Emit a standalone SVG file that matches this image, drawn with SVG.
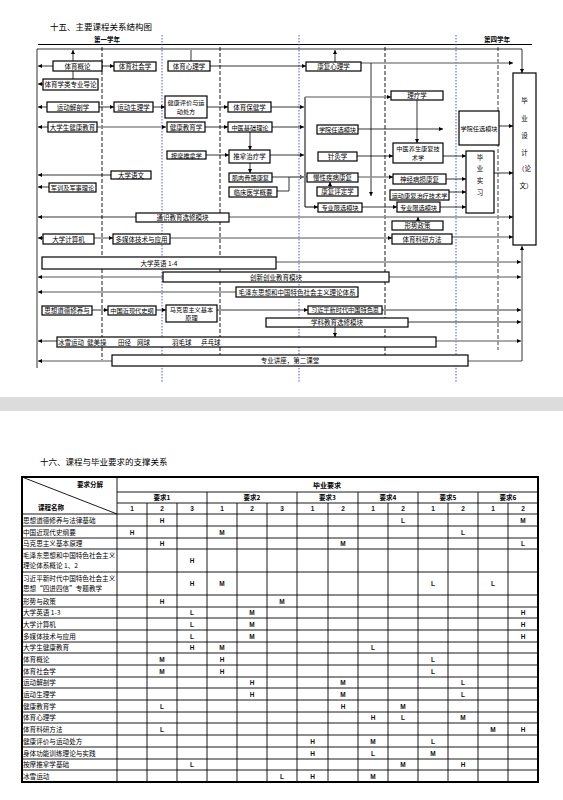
<svg xmlns="http://www.w3.org/2000/svg" width="563" height="800" viewBox="0 0 563 800">
<style>
.t{font-family:"Noto Sans CJK SC","Noto Sans",sans-serif;font-size:6.5px;fill:#000}
.s{font-size:6.2px}
.m{text-anchor:middle}
.b{font-weight:bold}
.bx rect{fill:#fff;stroke:#000;stroke-width:1.2}
.c{stroke:#000;stroke-width:0.8;fill:none}
.g{stroke:#8c8c8c;stroke-width:1.5;fill:none}
.dash{stroke:#000;stroke-width:0.9;stroke-dasharray:4,2;fill:none}
.gdash{stroke:#888;stroke-width:1.6;stroke-dasharray:4,2;fill:none}
.blue{stroke:#3a3aff;stroke-width:0.9;stroke-dasharray:1.5,1.5;fill:none}
.tl{stroke:#000;stroke-width:0.9;fill:none}
.tb{stroke:#000;stroke-width:2;fill:none}
.v{font-family:"Liberation Sans",sans-serif;font-size:6.5px;font-weight:bold;text-anchor:middle;fill:#111}
</style>
<defs>
<marker id="a" viewBox="0 0 6 6" refX="6" refY="3" markerWidth="4" markerHeight="4" markerUnits="userSpaceOnUse" orient="auto"><path d="M0,0 L6,3 L0,6 z" fill="#000"/></marker>
<marker id="ag" viewBox="0 0 6 6" refX="6" refY="3" markerWidth="4" markerHeight="4" markerUnits="userSpaceOnUse" orient="auto"><path d="M0,0 L6,3 L0,6 z" fill="#000"/></marker>
</defs>
<rect width="563" height="800" fill="#fff"/>
<rect x="0" y="397" width="563" height="14" fill="#dcdcdc"/>

<!-- Top diagram header -->
<text class="t" x="50" y="30" style="font-size:8.5px">十五、主要课程关系结构图</text>
<text class="t m b" x="107" y="42" style="font-size:6.5px">第一学年</text>
<text class="t m b" x="497" y="42" style="font-size:6.5px">第四学年</text>
<path class="tl" d="M38,44.5 H532" style="stroke-width:1.2"/>

<!-- semester lines -->
<g id="grid">
<path class="dash" d="M102,47 V360"/>
<path class="dash" d="M220,47 V355"/>
<path class="dash" d="M385,47 V356"/>
<path class="gdash" d="M498,47 V350"/>
<path class="blue" d="M162,35 V383"/>
<path class="blue" d="M299,35 V383"/>
<path class="blue" d="M456,35 V383"/>
</g>

<g id="connectors">
<path class="c" d="M37,49 H522 V73" marker-end="url(#a)"/>
<path class="c" d="M37,49 V368"/>
<path class="c" d="M73,61 V50" marker-end="url(#a)"/>
<path class="c" d="M191,61 V50"/>
<path class="c" d="M335,62 V50" marker-end="url(#a)"/>
<path class="c" d="M53,66 H38" marker-end="url(#a)"/>
<path class="c" d="M102,66 H114" marker-end="url(#a)"/>
<path class="c" d="M73,71 V79"/>
<path class="c" d="M43,84 H38" marker-end="url(#a)"/>
<path class="c" d="M47,107 H38" marker-end="url(#a)"/>
<path class="c" d="M99,107 H114" marker-end="url(#a)"/>
<path class="c" d="M153,107 H165" marker-end="url(#a)"/>
<path class="c" d="M207,107 H228" marker-end="url(#a)"/>
<path class="c" d="M271,107 H304" marker-end="url(#a)"/>
<path class="c" d="M48,127 H38" marker-end="url(#a)"/>
<path class="g" d="M97,127 H166" marker-end="url(#ag)"/>
<path class="c" d="M205,127 H228" marker-end="url(#a)"/>
<path class="c" d="M272,127 H304" marker-end="url(#a)"/>
<path class="c" d="M250,132 V150" marker-end="url(#a)"/>
<path class="c" d="M206,155 H229" marker-end="url(#a)"/>
<path class="c" d="M270,155 H304" marker-end="url(#a)"/>
<path class="c" d="M250,163 V173" marker-end="url(#a)"/>
<path class="c" d="M272,177 H289 V191 H277"/>
<path class="c" d="M289,177 H304" marker-end="url(#a)"/>
<path class="c" d="M210,66 H306" marker-end="url(#a)"/>
<path class="g" d="M361,63 H513" marker-end="url(#ag)"/>
<path class="c" d="M371,63 V196" marker-end="url(#a)"/>
<path class="c" d="M305,97 V207 H318" marker-end="url(#a)" style="stroke-width:1"/>
<path class="g" d="M305,97 H391" marker-end="url(#ag)"/>
<path class="c" d="M358,129 H443" marker-end="url(#a)"/>
<path class="c" d="M417,100 V143" marker-end="url(#a)"/>
<path class="c" d="M357,156 H393" marker-end="url(#a)"/>
<path class="c" d="M443,156 H466" marker-end="url(#a)"/>
<path class="g" d="M290,177 H307"/>
<path class="g" d="M358,177 H393" marker-end="url(#ag)"/>
<path class="c" d="M446,179 H466" marker-end="url(#a)"/>
<path class="c" d="M330,187 V182" marker-end="url(#a)"/>
<path class="c" d="M449,192 H466" marker-end="url(#a)"/>
<path class="c" d="M362,207 H397" marker-end="url(#a)"/>
<path class="c" d="M440,207 H466" marker-end="url(#a)"/>
<path class="c" d="M494,173 H513" marker-end="url(#a)"/>
<path class="c" d="M499,126 H513" marker-end="url(#a)"/>
<path class="c" d="M111,175 H38" marker-end="url(#a)"/>
<path class="c" d="M49,187 H38" marker-end="url(#a)"/>
<path class="c" d="M136,217 H38" marker-end="url(#a)"/>
<path class="g" d="M229,217 H513" marker-end="url(#ag)"/>
<path class="c" d="M418,221 V217" marker-end="url(#a)"/>
<path class="c" d="M43,238 H38" marker-end="url(#a)"/>
<path class="g" d="M94,238 H113" marker-end="url(#ag)"/>
<path class="g" d="M170,238 H392" marker-end="url(#ag)"/>
<path class="g" d="M452,237 H513" marker-end="url(#ag)"/>
<path class="g" d="M276,262 H521" marker-end="url(#ag)"/>
<path class="g" d="M163,277 H38" marker-end="url(#ag)"/>
<path class="g" d="M389,277 H521" marker-end="url(#ag)"/>
<path class="g" d="M236,292 H38" marker-end="url(#ag)"/>
<path class="c" d="M92,310 H108" marker-end="url(#a)"/>
<path class="c" d="M156,310 H166" marker-end="url(#a)"/>
<path class="c" d="M217,310 H308" marker-end="url(#a)"/>
<path class="c" d="M382,310 H521" marker-end="url(#a)"/>
<path class="c" d="M408,322 H521" marker-end="url(#a)"/>
<path class="c" d="M335,327 V337" marker-end="url(#a)"/>
<path class="c" d="M57,341 H38" marker-end="url(#a)"/>
<path class="g" d="M436,341 H521" marker-end="url(#ag)"/>
<path class="g" d="M112,361 H38" marker-end="url(#ag)"/>
<path class="g" d="M468,361 H522"/>
<path class="c" d="M522,361 V246" marker-end="url(#a)"/>
</g>

<g id="n-tygl" class="bx"><rect x="53" y="61" width="49" height="10"/><text class="t m" x="77.5" y="68.5">体育概论</text></g>
<g id="n-tyshx" class="bx"><rect x="114" y="62" width="42" height="9"/><text class="t m" x="135" y="69">体育社会学</text></g>
<g id="n-tyxlx" class="bx"><rect x="168" y="61" width="42" height="10"/><text class="t m" x="189" y="68.5">体育心理学</text></g>
<g id="n-zydl" class="bx"><rect x="43" y="79" width="55" height="11"/><text class="t m" x="70.5" y="87">体育学类专业导论</text></g>
<g id="n-ydjp" class="bx"><rect x="47" y="102" width="52" height="10"/><text class="t m" x="73" y="109.5">运动解剖学</text></g>
<g id="n-ydsl" class="bx"><rect x="114" y="102" width="39" height="10"/><text class="t m" x="133.5" y="109.5">运动生理学</text></g>
<g id="n-jkpj" class="bx"><rect x="165" y="96" width="42" height="22"/><text class="t m s" x="186" y="104.5">健康评价与运</text><text class="t m s" x="186" y="114">动处方</text></g>
<g id="n-dxsjk" class="bx"><rect x="48" y="122" width="49" height="10"/><text class="t m" x="72.5" y="129.5">大学生健康教育</text></g>
<g id="n-jkjyx" class="bx"><rect x="167" y="122" width="38" height="10"/><text class="t m" x="186" y="129.5">健康教育学</text></g>
<g id="n-tybj" class="bx"><rect x="228" y="102" width="43" height="10"/><text class="t m" x="249.5" y="109.5">体育保健学</text></g>
<g id="n-zyjc" class="bx"><rect x="228" y="122" width="44" height="10"/><text class="t m s" x="250" y="129.5">中医基础理论</text></g>
<g id="n-kfxl" class="bx"><rect x="306" y="62" width="55" height="9"/><text class="t m" x="333.5" y="69">康复心理学</text></g>
<g id="n-xyrx1" class="bx"><rect x="317" y="125" width="41" height="9"/><text class="t m s" x="337.5" y="132">学院任选模块</text></g>
<g id="n-llx" class="bx"><rect x="391" y="91" width="52" height="9"/><text class="t m" x="417" y="98">理疗学</text></g>
<g id="n-xyrx2" class="bx"><rect x="459" y="111" width="40" height="34"/><text class="t m s" x="479" y="130.5">学院任选模块</text></g>
<g id="n-bysj" class="bx"><rect x="513" y="73" width="23" height="172"/>
<text class="t m" x="524.5" y="103">毕</text><text class="t m" x="524.5" y="121">业</text><text class="t m" x="524.5" y="138">设</text><text class="t m" x="524.5" y="155">计</text><text class="t m" x="524.5" y="171">（论</text><text class="t m" x="526" y="188">文）</text></g>
<g id="n-amtn" class="bx"><rect x="167" y="151" width="39" height="8"/><text class="t m s" x="186.5" y="157.5">按摩推拿学</text></g>
<g id="n-tnzl" class="bx"><rect x="229" y="150" width="41" height="13"/><text class="t m" x="249.5" y="159">推拿治疗学</text></g>
<g id="n-jrgg" class="bx"><rect x="229" y="173" width="43" height="9"/><text class="t m s" x="250.5" y="180">肌肉骨骼康复</text></g>
<g id="n-lcyx" class="bx"><rect x="229" y="187" width="48" height="10"/><text class="t m" x="253" y="194.5">临床医学概要</text></g>
<g id="n-zjx" class="bx"><rect x="318" y="152" width="39" height="9"/><text class="t m" x="337.5" y="159">针灸学</text></g>
<g id="n-zyys" class="bx"><rect x="393" y="143" width="50" height="20"/><text class="t m s" x="418" y="151">中医养生康复技</text><text class="t m s" x="418" y="160">术学</text></g>
<g id="n-mxjb" class="bx"><rect x="307" y="173" width="51" height="9"/><text class="t m" x="332.5" y="180">慢性疾病康复</text></g>
<g id="n-sjbs" class="bx"><rect x="393" y="174" width="53" height="10"/><text class="t m" x="419.5" y="181.5">神经病损康复</text></g>
<g id="n-kfpd" class="bx"><rect x="317" y="187" width="41" height="9"/><text class="t m" x="337.5" y="194">康复评定学</text></g>
<g id="n-ydkf" class="bx"><rect x="390" y="190" width="59" height="10"/><text class="t m s" x="419.5" y="197.5">运动康复治疗技术学</text></g>
<g id="n-zyxx1" class="bx"><rect x="318" y="203" width="44" height="9"/><text class="t m s" x="340" y="210">专业限选模块</text></g>
<g id="n-zyxx2" class="bx"><rect x="397" y="202" width="43" height="10"/><text class="t m s" x="418.5" y="209.5">专业限选模块</text></g>
<g id="n-byxx" class="bx"><rect x="466" y="151" width="28" height="62"/>
<text class="t m" x="480" y="160">毕</text><text class="t m" x="480" y="171">业</text><text class="t m" x="480" y="183">实</text><text class="t m" x="480" y="195">习</text></g>
<g id="n-dxyw" class="bx"><rect x="111" y="171" width="40" height="8"/><text class="t m" x="131" y="177.5">大学语文</text></g>
<g id="n-jx" class="bx"><rect x="49" y="183" width="47" height="9"/><text class="t m s" x="72.5" y="190">军训及军事理论</text></g>
<g id="n-tsjy" class="bx"><rect x="136" y="213" width="93" height="9"/><text class="t m" x="182.5" y="220">通识教育选修模块</text></g>
<g id="n-xszc" class="bx"><rect x="392" y="221" width="51" height="9"/><text class="t m" x="417.5" y="228">形势政策</text></g>
<g id="n-dxjsj" class="bx"><rect x="43" y="234" width="51" height="10"/><text class="t m" x="68.5" y="241.5">大学计算机</text></g>
<g id="n-dmt" class="bx"><rect x="113" y="234" width="57" height="10"/><text class="t m" x="141.5" y="241.5">多媒体技术与应用</text></g>
<g id="n-tyky" class="bx"><rect x="392" y="234" width="60" height="10"/><text class="t m" x="422" y="241.5">体育科研方法</text></g>
<g id="n-dxyy" class="bx"><rect x="42" y="257" width="234" height="12"/><text class="t m" x="159" y="265.5">大学英语 1-4</text></g>
<g id="n-cxcy" class="bx"><rect x="163" y="272" width="226" height="10"/><text class="t m" x="276" y="279.5">创新创业教育模块</text></g>
<g id="n-mzd" class="bx"><rect x="236" y="287" width="122" height="10"/><text class="t m" x="297" y="294.5">毛泽东思想和中国特色社会主义理论体系</text></g>
<g id="n-sxdd" class="bx"><rect x="42" y="306" width="50" height="9"/><text class="t m" x="67" y="313">思想道德修养与</text></g>
<g id="n-zgjxd" class="bx"><rect x="108" y="306" width="48" height="9"/><text class="t m s" x="132" y="313">中国近现代史纲</text></g>
<g id="n-mks" class="bx"><rect x="166" y="305" width="51" height="17"/><text class="t m s" x="191.5" y="312">马克思主义基本</text><text class="t m s" x="191.5" y="320">原理</text></g>
<g id="n-xjp" class="bx"><rect x="308" y="306" width="74" height="8"/><text class="t m s" x="345" y="312.3">习近平新时代中国特色思</text></g>
<g id="n-xkjy" class="bx"><rect x="266" y="318" width="142" height="9"/><text class="t m" x="337" y="325">学科教育选修模块</text></g>
<g id="n-tyyd" class="bx"><rect x="57" y="337" width="379" height="10"/>
<text class="t" x="58" y="344.5">冰雪运动</text><text class="t" x="87" y="344.5">健美操</text><text class="t" x="118" y="344.5">田径</text><text class="t" x="137" y="344.5">网球</text><text class="t" x="172" y="344.5">羽毛球</text><text class="t" x="201" y="344.5">乒乓球</text></g>
<g id="n-zyjz" class="bx"><rect x="112" y="355" width="356" height="11"/><text class="t m" x="290" y="363">专业讲座，第二课堂</text></g>

<!-- Table -->
<g id="table">
<text class="t" x="40" y="465" style="font-size:8.5px">十六、课程与毕业要求的支撑关系</text>
<rect class="tb" x="22" y="477" width="516" height="305"/>
<path class="tl" d="M22,477 L117,514"/>
<path class="tl" d="M117,492 H538 M117,503 H538 M22,514 H538 M22,526 H538 M22,538 H538 M22,549 H538 M22,572 H538 M22,595 H538 M22,607 H538 M22,618 H538 M22,630 H538 M22,642 H538 M22,653 H538 M22,665 H538 M22,677 H538 M22,688 H538 M22,700 H538 M22,712 H538 M22,723 H538 M22,735 H538 M22,747 H538 M22,759 H538 M22,770 H538"/>
<path class="tl" d="M117,477 V782 M207,492 V782 M297,492 V782 M358,492 V782 M418,492 V782 M478,492 V782 M147,503 V782 M177,503 V782 M237,503 V782 M267,503 V782 M328,503 V782 M388,503 V782 M448,503 V782 M508,503 V782"/>
<text class="t b" x="77" y="487" style="font-size:6.5px">要求分解</text>
<text class="t b" x="38" y="510" style="font-size:6.5px">课程名称</text>
<text class="t m b" x="327" y="487.5" style="font-size:7px">毕业要求</text>
<text class="t m b" x="162" y="500" style="font-size:6.5px">要求1</text>
<text class="t m b" x="252" y="500" style="font-size:6.5px">要求2</text>
<text class="t m b" x="327.5" y="500" style="font-size:6.5px">要求3</text>
<text class="t m b" x="388" y="500" style="font-size:6.5px">要求4</text>
<text class="t m b" x="448" y="500" style="font-size:6.5px">要求5</text>
<text class="t m b" x="508" y="500" style="font-size:6.5px">要求6</text>
<g class="v">
<text x="132" y="511">1</text><text x="162" y="511">2</text><text x="192" y="511">3</text><text x="222" y="511">1</text><text x="252" y="511">2</text><text x="282" y="511">3</text><text x="312.5" y="511">1</text><text x="343" y="511">2</text><text x="373" y="511">1</text><text x="403" y="511">2</text><text x="433" y="511">1</text><text x="463" y="511">2</text><text x="493" y="511">1</text><text x="523" y="511">2</text>
</g>
<g class="t" style="font-size:6.6px">
<text x="23" y="522.5">思想道德修养与法律基础</text>
<text x="23" y="534.5">中国近现代史纲要</text>
<text x="23" y="546">马克思主义基本原理</text>
<text x="23" y="558">毛泽东思想和中国特色社会主义</text>
<text x="23" y="568">理论体系概论 1、2</text>
<text x="23" y="581">习近平新时代中国特色社会主义</text>
<text x="23" y="591">思想“四进四信”专题教学</text>
<text x="23" y="603.5">形势与政策</text>
<text x="23" y="615">大学英语 1-3</text>
<text x="23" y="626.5">大学计算机</text>
<text x="23" y="638.5">多媒体技术与应用</text>
<text x="23" y="650">大学生健康教育</text>
<text x="23" y="661.5">体育概论</text>
<text x="23" y="673.5">体育社会学</text>
<text x="23" y="685">运动解剖学</text>
<text x="23" y="696.5">运动生理学</text>
<text x="23" y="708.5">健康教育学</text>
<text x="23" y="720">体育心理学</text>
<text x="23" y="731.5">体育科研方法</text>
<text x="23" y="743.5">健康评价与运动处方</text>
<text x="23" y="755.5">身体功能训练理论与实践</text>
<text x="23" y="767">按摩推拿学基础</text>
<text x="23" y="778.5">冰雪运动</text>
</g>
<g class="v">
<text x="162" y="522.5">H</text><text x="403" y="522.5">L</text><text x="523" y="522.5">M</text>
<text x="132" y="534.5">H</text><text x="222" y="534.5">M</text><text x="463" y="534.5">L</text>
<text x="162" y="546">H</text><text x="343" y="546">M</text><text x="523" y="546">L</text>
<text x="192" y="563">H</text>
<text x="192" y="586">H</text><text x="222" y="586">M</text><text x="433" y="586">L</text><text x="493" y="586">L</text>
<text x="162" y="603.5">H</text><text x="282" y="603.5">M</text>
<text x="192" y="615">L</text><text x="252" y="615">M</text><text x="523" y="615">H</text>
<text x="192" y="626.5">L</text><text x="252" y="626.5">M</text><text x="523" y="626.5">H</text>
<text x="192" y="638.5">L</text><text x="252" y="638.5">M</text><text x="523" y="638.5">H</text>
<text x="192" y="650">H</text><text x="222" y="650">M</text><text x="373" y="650">L</text>
<text x="162" y="661.5">M</text><text x="222" y="661.5">H</text><text x="433" y="661.5">L</text>
<text x="162" y="673.5">M</text><text x="222" y="673.5">H</text><text x="433" y="673.5">L</text>
<text x="252" y="685">H</text><text x="343" y="685">M</text><text x="463" y="685">L</text>
<text x="252" y="696.5">H</text><text x="343" y="696.5">M</text><text x="463" y="696.5">L</text>
<text x="162" y="708.5">L</text><text x="343" y="708.5">H</text><text x="403" y="708.5">M</text>
<text x="373" y="720">H</text><text x="403" y="720">L</text><text x="463" y="720">M</text>
<text x="162" y="731.5">L</text><text x="493" y="731.5">M</text><text x="523" y="731.5">H</text>
<text x="312.5" y="743.5">H</text><text x="373" y="743.5">M</text><text x="433" y="743.5">L</text>
<text x="312.5" y="755.5">H</text><text x="373" y="755.5">L</text><text x="433" y="755.5">M</text>
<text x="192" y="767">L</text><text x="403" y="767">M</text><text x="463" y="767">H</text>
<text x="282" y="778.5">L</text><text x="312.5" y="778.5">H</text><text x="373" y="778.5">M</text>
</g>
</g>
</svg>
